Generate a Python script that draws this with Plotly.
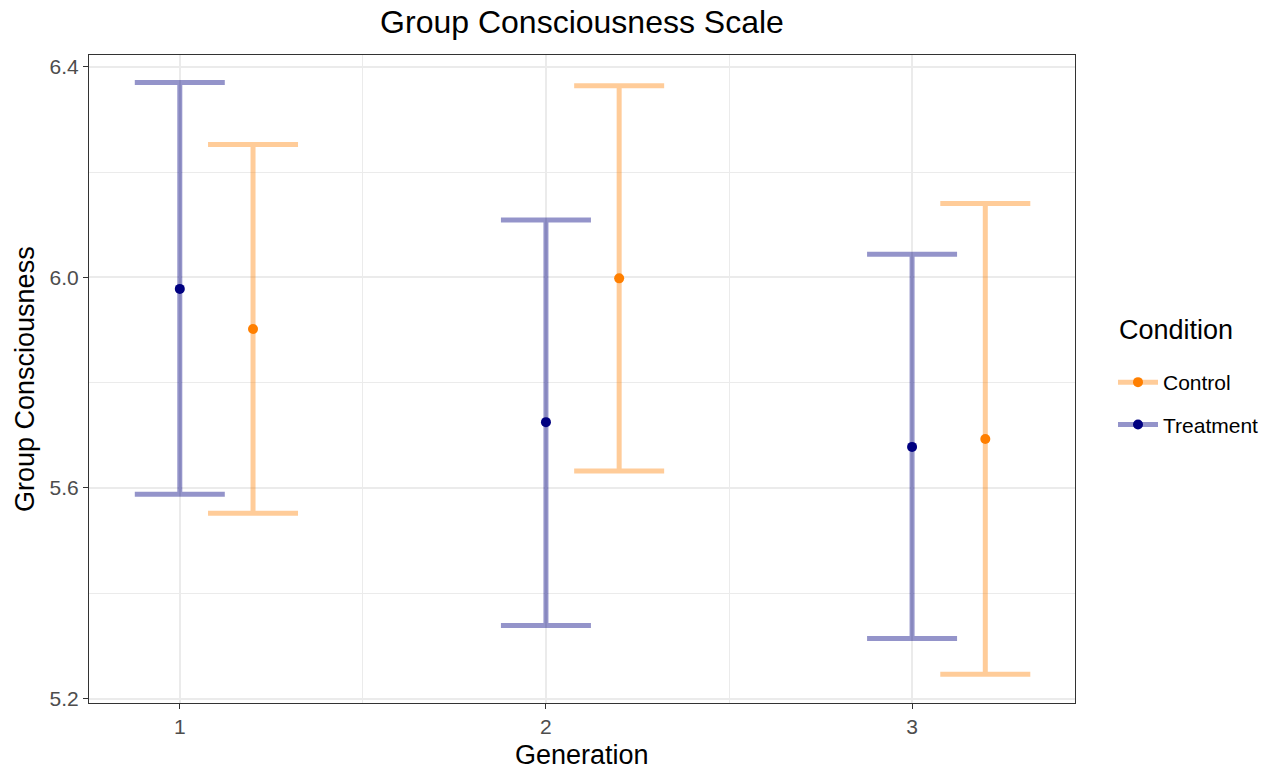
import plotly.graph_objects as go

generation = [1, 2, 3]
conditions = ["Control", "Treatment"]

control_mean = [5.902, 5.998, 5.693]
control_lower = [5.552, 5.632, 5.246]
control_upper = [6.252, 6.364, 6.140]

treatment_mean = [5.978, 5.725, 5.678]
treatment_lower = [5.588, 5.339, 5.314]
treatment_upper = [6.370, 6.109, 6.044]

series = {
    "Control": dict(mean=control_mean, lower=control_lower, upper=control_upper,
                    offset=0.2, point="#FF7F00", bar="rgba(255,127,0,0.4)"),
    "Treatment": dict(mean=treatment_mean, lower=treatment_lower, upper=treatment_upper,
                      offset=0.0, point="#000080", bar="rgba(0,0,128,0.42)"),
}

FONT = "Liberation Sans, Arial, Helvetica, sans-serif"
fig = go.Figure()

for name in ["Treatment", "Control"]:
    s = series[name]
    xs = [g + s["offset"] for g in generation]
    fig.add_trace(go.Scatter(
        x=xs, y=s["mean"], mode="markers", showlegend=False,
        marker=dict(color=s["point"], size=10),
        error_y=dict(type="data", symmetric=False,
                     array=[u - m for u, m in zip(s["upper"], s["mean"])],
                     arrayminus=[m - l for m, l in zip(s["mean"], s["lower"])],
                     color=s["bar"], thickness=5, width=45),
        hoverinfo="skip",
    ))

for name in conditions:
    s = series[name]
    fig.add_trace(go.Scatter(
        x=[None], y=[None], mode="lines+markers", name=name, legendgroup=name,
        line=dict(color=s["bar"], width=5),
        marker=dict(color=s["point"], size=10),
    ))

axis_common = dict(
    showline=True, mirror=True, linecolor="#333333", linewidth=1.2,
    ticks="outside", ticklen=5, tickwidth=1.2, tickcolor="#333333",
    showgrid=True, gridcolor="#EBEBEB", gridwidth=1.5,
    zeroline=False,
    tickfont=dict(family=FONT, size=21, color="#4D4D4D"),
)

fig.update_xaxes(range=[0.752, 3.445], tickmode="linear", tick0=1, dtick=1,
                 minor=dict(dtick=0.5, tick0=0.5, showgrid=True, gridcolor="#EBEBEB", gridwidth=0.8),
                 **axis_common)
fig.update_yaxes(range=[5.1916, 6.4222], tickmode="linear", tick0=5.2, dtick=0.4,
                 tickformat=".1f",
                 minor=dict(dtick=0.2, tick0=5.2, showgrid=True, gridcolor="#EBEBEB", gridwidth=0.8),
                 **axis_common)

PW, PH = 986, 648
fig.update_layout(
    width=1288, height=769,
    margin=dict(l=89, r=213, t=55, b=66),
    paper_bgcolor="white", plot_bgcolor="white",
    font=dict(family=FONT, color="black"),
    title=dict(text="Group Consciousness Scale", x=(89 + 1075) / 2 / 1288, xanchor="center",
               y=1 - 22 / 769, yanchor="middle", font=dict(size=32, color="black")),
    showlegend=True,
    legend=dict(
        font=dict(size=21, color="black"),
        x=(1113 - 89) / PW, xanchor="left", y=(703 - 362) / PH, yanchor="top",
        bgcolor="rgba(0,0,0,0)", tracegroupgap=12, itemwidth=40,
    ),
    annotations=[
        dict(text="Condition", xref="paper", yref="paper", x=(1117 - 89) / PW, y=(703 - 330) / PH,
             xanchor="left", yanchor="middle", showarrow=False,
             font=dict(size=27, color="black", family=FONT)),
        dict(text="Generation", xref="paper", yref="paper", x=0.5, y=-(755 - 703) / PH,
             xanchor="center", yanchor="middle", showarrow=False,
             font=dict(size=27, color="black", family=FONT)),
        dict(text="Group Consciousness", xref="paper", yref="paper", x=-(89 - 25) / PW, y=0.5,
             xanchor="center", yanchor="middle", showarrow=False, textangle=-90,
             font=dict(size=27, color="black", family=FONT)),
    ],
)

fig.write_html("out.html")
